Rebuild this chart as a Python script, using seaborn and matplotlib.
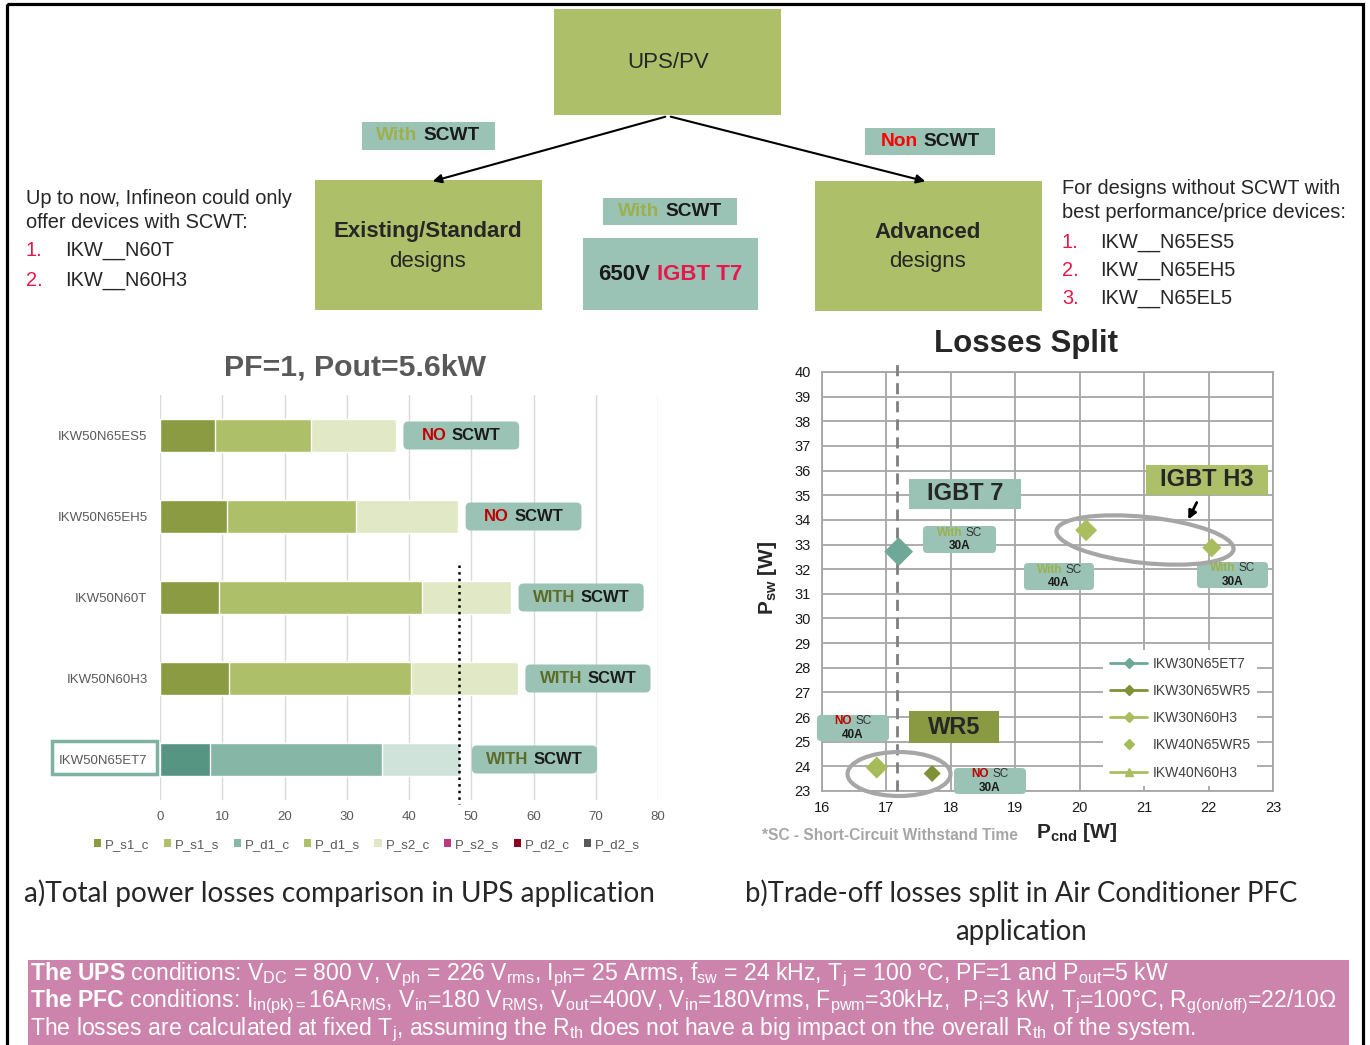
import numpy as np
import pandas as pd
import matplotlib
matplotlib.use("Agg")
import matplotlib.pyplot as plt
import seaborn as sns
from matplotlib.patches import Rectangle, FancyBboxPatch, Ellipse, Patch
from matplotlib.lines import Line2D
from matplotlib.offsetbox import TextArea, HPacker, VPacker, AnnotationBbox

sns.set_style("white")
plt.rcParams['font.family'] = ['Liberation Sans', 'DejaVu Sans']
plt.rcParams['mathtext.fontset'] = 'custom'
plt.rcParams['mathtext.rm'] = 'Liberation Sans'
plt.rcParams['mathtext.bf'] = 'Liberation Sans:bold'
plt.rcParams['mathtext.it'] = 'Liberation Sans:italic'
plt.rcParams['mathtext.default'] = 'regular'

# --- a) Verluste pro Bauteil (W), drei gestapelte Anteile ---
devices = ["IKW50N65ES5", "IKW50N65EH5", "IKW50N60T", "IKW50N60H3", "IKW50N65ET7"]
loss_part1 = [8.8, 10.7, 9.4, 11.1, 8.1]
loss_part2 = [15.5, 20.8, 32.7, 29.2, 27.5]
loss_part3 = [13.6, 16.4, 14.3, 17.2, 12.6]
scwt_tag = ["NO", "NO", "WITH", "WITH", "WITH"]
ref_line = 48.05

legend_names = ["P_s1_c", "P_s1_s", "P_d1_c", "P_d1_s", "P_s2_c", "P_s2_s", "P_d2_c", "P_d2_s"]
legend_colors = ["#8A9B41", "#AFC06B", "#86B7A7", "#AFC06B", "#DFE7C4", "#B83A80", "#8B0021", "#595959"]

# --- b) Losses Split ---
parts = ["IKW30N65ET7", "IKW30N65WR5", "IKW30N60H3", "IKW40N65WR5", "IKW40N60H3"]
p_cnd = [17.19, 17.71, 22.05, 16.85, 20.10]
p_sw = [32.71, 23.71, 32.87, 23.95, 33.58]
sc_rating = ["With", "NO", "With", "NO", "With"]
current = ["30A", "30A", "30A", "40A", "40A"]
t7_line = 17.17

W, H = 1370, 1045
fig = plt.figure(figsize=(W / 100, H / 100), dpi=100)


def canvas(z):
    a = fig.add_axes([0, 0, 1, 1], zorder=z)
    a.set_xlim(0, W)
    a.set_ylim(H, 0)
    a.axis('off')
    a.patch.set_visible(False)
    return a


bg = canvas(0)
ax1 = fig.add_axes([160 / W, (H - 800) / H, 498 / W, 405 / H], zorder=2)
ax2 = fig.add_axes([822 / W, (H - 791) / H, 451 / W, 419 / H], zorder=2)
ov = canvas(5)

OLIVE = "#AEBF6A"
TEAL = "#9AC3B6"
RED = "#E8174B"


def mtext(axx, x, y, pieces, size, align=(0.5, 0.5), sep=3, z=7):
    boxes = [TextArea(s, textprops=dict(color=c, fontsize=size, fontweight=w)) for s, c, w in pieces]
    pack = HPacker(children=boxes, align='baseline', pad=0, sep=sep)
    ab = AnnotationBbox(pack, (x, y), xycoords='data', frameon=False,
                        box_alignment=align, pad=0, zorder=z)
    axx.add_artist(ab)


def rbox(axx, x0, y0, x1, y1, fc, r=5, z=6):
    axx.add_patch(FancyBboxPatch((x0 + r, y0 + r), x1 - x0 - 2 * r, y1 - y0 - 2 * r,
                                 boxstyle=f"round,pad={r},rounding_size={r}",
                                 fc=fc, ec='none', zorder=z))


# Rahmen und Diagramm oben
bg.add_patch(Rectangle((7, 4), 1356, 1080, fill=False, ec='black', lw=2.3))
bg.add_patch(Rectangle((554, 9), 227, 106, fc=OLIVE, ec='none'))
bg.text(668, 63, "UPS/PV", ha='center', va='center', fontsize=16)
bg.annotate("", xy=(430, 182), xytext=(668, 116),
            arrowprops=dict(arrowstyle='-|>', color='black', lw=1.5, mutation_scale=13))
bg.annotate("", xy=(928, 182), xytext=(668, 116),
            arrowprops=dict(arrowstyle='-|>', color='black', lw=1.5, mutation_scale=13))

bg.add_patch(Rectangle((362, 122), 133, 28, fc=TEAL, ec='none'))
mtext(bg, 428, 136, [("With", "#9DB04C", 'bold'), ("SCWT", "#1a1a1a", 'bold')], 13.8, sep=4)
bg.add_patch(Rectangle((865, 128), 130, 27, fc=TEAL, ec='none'))
mtext(bg, 930, 142, [("Non", "#FF0000", 'bold'), ("SCWT", "#1a1a1a", 'bold')], 13.8, sep=4)

bg.add_patch(Rectangle((315, 180), 227, 130, fc=OLIVE, ec='none'))
bg.text(428, 232, "Existing/Standard", ha='center', va='center', fontsize=16, weight='bold')
bg.text(428, 261, "designs", ha='center', va='center', fontsize=16)
bg.add_patch(Rectangle((815, 181), 227, 130, fc=OLIVE, ec='none'))
bg.text(928, 232, "Advanced", ha='center', va='center', fontsize=16, weight='bold')
bg.text(928, 261, "designs", ha='center', va='center', fontsize=16)

bg.add_patch(Rectangle((603, 198), 134, 27, fc=TEAL, ec='none'))
mtext(bg, 670, 212, [("With", "#9DB04C", 'bold'), ("SCWT", "#1a1a1a", 'bold')], 13.8, sep=4)
bg.add_patch(Rectangle((583, 238), 175, 72, fc=TEAL, ec='none'))
mtext(bg, 670, 275, [("650V", "#1a1a1a", 'bold'), ("IGBT T7", RED, 'bold')], 16, sep=5)

txt_c = "#262626"
fs_list = 14.4
bg.text(26, 199, "Up to now, Infineon could only", va='center', fontsize=fs_list, color=txt_c)
bg.text(26, 223, "offer devices with SCWT:", va='center', fontsize=fs_list, color=txt_c)
for i, (yy, nm) in enumerate([(251, "IKW__N60T"), (280, "IKW__N60H3")]):
    bg.text(26, yy, f"{i + 1}.", va='center', fontsize=fs_list, color=RED)
    bg.text(65, yy, nm, va='center', fontsize=fs_list, color=txt_c)
bg.text(1062, 189, "For designs without SCWT with", va='center', fontsize=fs_list, color=txt_c)
bg.text(1062, 213, "best performance/price devices:", va='center', fontsize=fs_list, color=txt_c)
for i, (yy, nm) in enumerate([(242, "IKW__N65ES5"), (270, "IKW__N65EH5"), (298, "IKW__N65EL5")]):
    bg.text(1062, yy, f"{i + 1}.", va='center', fontsize=fs_list, color=RED)
    bg.text(1100, yy, nm, va='center', fontsize=fs_list, color=txt_c)

# a) gestapelte Balken mit seaborn (kumulative Summen, hinten nach vorne)
df = pd.DataFrame({"device": devices, "p1": loss_part1, "p2": loss_part2, "p3": loss_part3})
df["c1"] = df["p1"]
df["c2"] = df["p1"] + df["p2"]
df["c3"] = df["c2"] + df["p3"]

layers = [("c3", "#E0E8C5", "#CFE3DB"), ("c2", "#AEBF6A", "#85B6A6"), ("c1", "#8A9B41", "#579583")]
for col, col_std, col_t7 in layers:
    pal = {d: (col_t7 if d.endswith("ET7") else col_std) for d in devices}
    sns.barplot(data=df, x=col, y="device", hue="device", palette=pal, orient='h',
                width=0.4, saturation=1, legend=False, ax=ax1, zorder=3)

ax1.set_xlim(0, 80)
ax1.set_ylim(4.5, -0.5)
ax1.set_xticks(range(0, 81, 10))
ax1.xaxis.grid(True, color='#D9D9D9', lw=1)
ax1.yaxis.grid(False)
ax1.set_axisbelow(True)
for s in ax1.spines.values():
    s.set_visible(False)
ax1.set_xlabel("")
ax1.set_ylabel("")
ax1.tick_params(axis='both', length=0, labelsize=9.5, labelcolor='#595959')
ax1.tick_params(axis='y', pad=9)
ax1.tick_params(axis='x', pad=8)
ax1.plot([ref_line, ref_line], [1.6, 4.55], ls=':', color='black', lw=1.8, clip_on=False, zorder=4)

ax1.legend(handles=[Patch(fc=c, ec='none') for c in legend_colors], labels=legend_names,
           ncol=8, loc='center', bbox_to_anchor=(0.416, -0.111), frameon=False,
           handlelength=0.55, handleheight=0.55, handletextpad=0.3, columnspacing=1.07,
           fontsize=9.5, labelcolor='#595959')

fig.canvas.draw()
for i, d in enumerate(devices):
    end = df.loc[i, "c3"]
    gap = 1.9 if d.endswith("ET7") else 1.2
    wdt = 20.1 if scwt_tag[i] == "WITH" else 18.6
    x0, yc = ax1.transData.transform((end + gap, i))
    x1, _ = ax1.transData.transform((end + gap + wdt, i))
    yc = H - yc
    rbox(ov, x0, yc - 14, x1, yc + 14, TEAL)
    first = ("NO", "#C00000", 'bold') if scwt_tag[i] == "NO" else ("WITH", "#5C6B26", 'bold')
    mtext(ov, (x0 + x1) / 2, yc, [first, ("SCWT", "#1a1a1a", 'bold')], 12, sep=3.5)

ov.add_patch(Rectangle((52, 741), 105, 33, fill=False, ec='#7DB1A1', lw=2.5, zorder=6))
ov.text(355, 368, "PF=1, Pout=5.6kW", ha='center', va='center', fontsize=21.8,
        weight='bold', color='#595959')

# b) Losses Split
sdf = pd.DataFrame({"part": parts, "pcnd": p_cnd, "psw": p_sw})
colors = {"IKW30N65ET7": "#6EA898", "IKW30N65WR5": "#7E9137", "IKW30N60H3": "#A9BD5E",
          "IKW40N65WR5": "#A6BB5A", "IKW40N60H3": "#AABE60"}
sizes = {"IKW30N65ET7": 215, "IKW30N65WR5": 75, "IKW30N60H3": 95,
         "IKW40N65WR5": 125, "IKW40N60H3": 125}
sns.scatterplot(data=sdf, x="pcnd", y="psw", hue="part", palette=colors, size="part",
                sizes=sizes, marker='D', linewidth=0, legend=False, ax=ax2, zorder=4)
ax2.set_xlim(16, 23)
ax2.set_ylim(23, 40)
ax2.set_xticks(range(16, 24))
ax2.set_yticks(range(23, 41))
ax2.grid(True, color='#A6A6A6', lw=1.3)
ax2.set_axisbelow(True)
for s in ax2.spines.values():
    s.set_color('#A6A6A6')
    s.set_linewidth(1.3)
ax2.tick_params(axis='both', length=4, color='#A6A6A6', labelsize=10.5, labelcolor='#1a1a1a')
ax2.tick_params(axis='y', pad=4)
ax2.set_xlabel("")
ax2.set_ylabel("")
ax2.plot([t7_line, t7_line], [23, 40.49], ls=(0, (4, 2.5)), color='#7F7F7F', lw=2,
         clip_on=False, zorder=3)

handles = [Line2D([], [], color=colors[parts[0]], marker='D', ms=5, lw=2),
           Line2D([], [], color=colors[parts[1]], marker='D', ms=5, lw=2),
           Line2D([], [], color=colors[parts[2]], marker='D', ms=5, lw=2),
           Line2D([], [], color=colors[parts[3]], marker='D', ms=5.5, lw=0),
           Line2D([], [], color=colors[parts[4]], marker='^', ms=6, lw=2)]
leg = ax2.legend(handles=handles, labels=parts, loc='upper left', bbox_to_anchor=(0.623, 0.337),
                 frameon=True, fancybox=False, framealpha=1, facecolor='white', edgecolor='none',
                 fontsize=10, labelcolor='#404040', handlelength=2.7, handletextpad=0.35,
                 labelspacing=0.95, borderpad=0.5, borderaxespad=0)
leg.set_zorder(8)

ov.text(1026, 344, "Losses Split", ha='center', va='center', fontsize=22.5, weight='bold')
ov.text(768, 578, r"$P_{sw}$ [W]", ha='center', va='center', rotation=90, fontsize=15, weight='bold')
ov.text(1076, 832, r"$P_{cnd}$ [W]", ha='center', va='center', fontsize=15, weight='bold')
ov.text(762, 835, "*SC - Short-Circuit Withstand Time", va='center', fontsize=11.2,
        weight='bold', color='#A6A6A6')

ov.add_patch(Rectangle((909, 479), 112, 30, fc=TEAL, ec='none', zorder=6))
ov.text(965, 494, "IGBT 7", ha='center', va='center', fontsize=17, weight='bold', zorder=7)
ov.add_patch(Rectangle((1146, 465), 122, 30, fc=OLIVE, ec='none', zorder=6))
ov.text(1207, 480, "IGBT H3", ha='center', va='center', fontsize=17, weight='bold', zorder=7)
ov.add_patch(Rectangle((909, 711), 90, 32, fc="#8A9A42", ec='none', zorder=6))
ov.text(954, 727, "WR5", ha='center', va='center', fontsize=17, weight='bold', zorder=7)

tag_boxes = {"IKW30N65ET7": (923, 526, 996, 553), "IKW40N60H3": (1024, 563, 1094, 590),
             "IKW30N60H3": (1197, 562, 1268, 588), "IKW40N65WR5": (817, 715, 889, 741),
             "IKW30N65WR5": (954, 768, 1026, 794)}
for p, sc, cur in zip(parts, sc_rating, current):
    x0, y0, x1, y1 = tag_boxes[p]
    rbox(ov, x0, y0, x1, y1, TEAL, r=4)
    c = "#C00000" if sc == "NO" else "#9DB04C"
    top = HPacker(children=[TextArea(sc, textprops=dict(color=c, fontsize=8.5, fontweight='bold')),
                            TextArea("SC", textprops=dict(color='#333333', fontsize=8.5))],
                  align='baseline', pad=0, sep=2)
    bot = TextArea(cur, textprops=dict(color='#1a1a1a', fontsize=8.5, fontweight='bold'))
    ab = AnnotationBbox(VPacker(children=[top, bot], align='center', pad=0, sep=1),
                        ((x0 + x1) / 2, (y0 + y1) / 2), xycoords='data', frameon=False,
                        box_alignment=(0.5, 0.5), pad=0, zorder=7)
    ov.add_artist(ab)

ov.add_patch(Ellipse((1145, 540), 178, 46, angle=6, fill=False, ec='#A6A6A6', lw=3, zorder=6))
ov.add_patch(Ellipse((899, 774), 103, 44, angle=0, fill=False, ec='#A6A6A6', lw=3, zorder=6))
ov.annotate("", xy=(1187, 522), xytext=(1198, 500),
            arrowprops=dict(arrowstyle='-|>', color='black', lw=2, mutation_scale=12), zorder=7)

# Bildunterschriften
cap_font = ['Lato', 'DejaVu Sans']
ov.text(24, 893, "a)Total power losses comparison in UPS application", va='center',
        fontsize=20.2, family=cap_font)
ov.text(745, 893, "b)Trade-off losses split in Air Conditioner PFC", va='center',
        fontsize=19.8, family=cap_font)
ov.text(1021, 932, "application", ha='center', va='center', fontsize=19.8, family=cap_font)

# Bedingungen (rosa Kasten)
bg.add_patch(Rectangle((28, 960), 1321, 100, fc='#CC84AC', ec='none'))
lines = [
    r"$\mathbf{The\ UPS}$ conditions: $V_{DC}$ = 800 V, $V_{ph}$ = 226 $V_{rms}$, $I_{ph}$= 25 Arms, "
    r"$f_{sw}$ = 24 kHz, $T_{j}$ = 100 °C, PF=1 and $P_{out}$=5 kW",
    r"$\mathbf{The\ PFC}$ conditions: $I_{in(pk)=}$16$A_{RMS}$, $V_{in}$=180 $V_{RMS}$, $V_{out}$=400V, "
    r"$V_{in}$=180Vrms, $F_{pwm}$=30kHz,  $P_{i}$=3 kW, $T_{j}$=100°C, $R_{g(on/off)}$=22/10Ω",
    r"The losses are calculated at fixed $T_{j}$, assuming the $R_{th}$ does not have a big impact "
    r"on the overall $R_{th}$ of the system.",
]
for yy, ln in zip([975, 1002, 1030], lines):
    bg.text(30, yy, ln, va='center', fontsize=16.6, color='white')

fig.savefig("out.png", dpi=100)
